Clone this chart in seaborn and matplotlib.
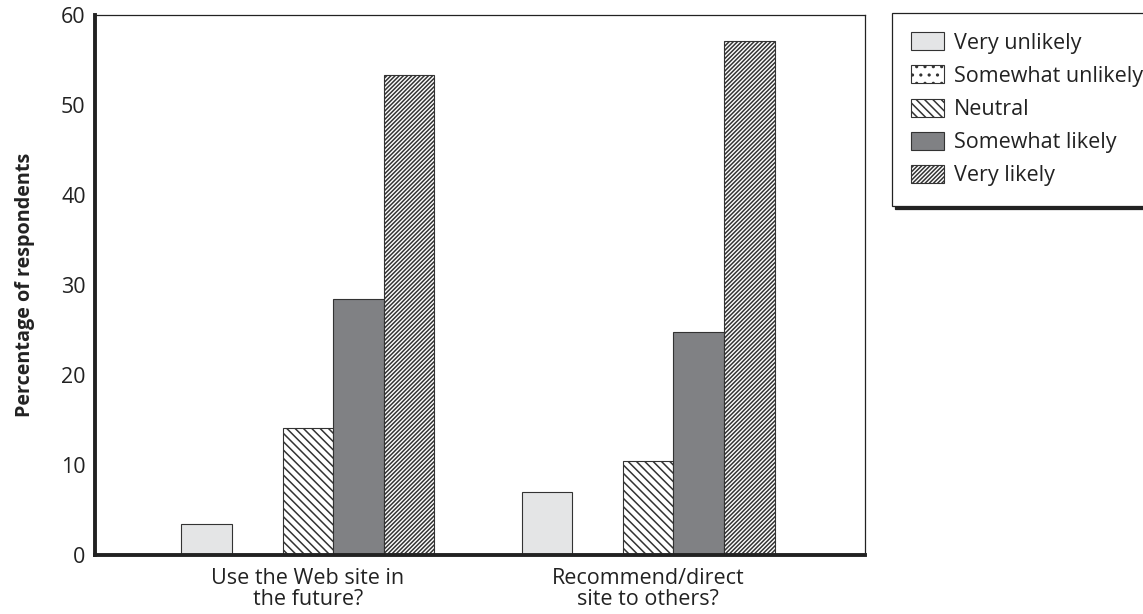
import pandas as pd
import matplotlib
matplotlib.use("Agg")
import matplotlib.pyplot as plt
from matplotlib.patches import Patch
import seaborn as sns

# ==================================================
# DATA
# ==================================================

questions = ["Use the Web site in\nthe future?", "Recommend/direct\nsite to others?"]
responses = ["Very unlikely", "Somewhat unlikely", "Neutral", "Somewhat likely", "Very likely"]

use_future = [3.4, 0.0, 14.1, 28.4, 53.3]
recommend = [7.0, 0.0, 10.5, 24.8, 57.1]

y_ticks = [0, 10, 20, 30, 40, 50, 60]

# ==================================================
# STYLE
# ==================================================

sns.set_style("white")
plt.rcParams["font.family"] = ["Open Sans", "DejaVu Sans"]
plt.rcParams["hatch.linewidth"] = 1.1
plt.rcParams["hatch.color"] = "#222222"

fills = ["#e4e5e6", "white", "white", "#808184", "white"]
hatches = [None, "..", "\\\\\\\\", None, "////////"]
edge = "#333333"
ink = "#222222"

rows = []
for q, vals in zip(questions, [use_future, recommend]):
    for r, v in zip(responses, vals):
        rows.append({"question": q, "response": r, "value": v})
df = pd.DataFrame(rows)

# ==================================================
# PLOT
# ==================================================

fig = plt.figure(figsize=(11.43, 6.14), dpi=100)
ax = fig.add_axes([0.0835, 0.096, 0.757 - 0.0835, 0.9756 - 0.096])

sns.barplot(
    data=df, x="question", y="value", hue="response",
    hue_order=responses, order=questions,
    palette=dict(zip(responses, fills)),
    width=0.743, saturation=1, gap=0,
    edgecolor=edge, linewidth=0.8,
    legend=False, ax=ax,
)

for cont, h in zip(ax.containers, hatches):
    for bar in cont:
        if h:
            bar.set_hatch(h)
        if bar.get_height() == 0:
            bar.set_visible(False)

ax.set_xlim(-0.624, 1.638)
ax.set_ylim(0, 60)
ax.set_yticks(y_ticks)
ax.tick_params(axis="y", direction="in", length=14, width=0.9,
               color=ink, labelsize=15.5, pad=7, labelcolor=ink)
ax.tick_params(axis="x", length=0, labelsize=15.5, pad=9, labelcolor=ink)
for lbl in ax.get_xticklabels():
    lbl.set_linespacing(1.05)

ax.set_xlabel("")
ax.set_ylabel("Percentage of respondents", fontsize=14.2, fontweight="bold",
              color=ink, labelpad=19)

for side in ["left", "bottom"]:
    ax.spines[side].set_linewidth(2.8)
    ax.spines[side].set_color(ink)
for side in ["top", "right"]:
    ax.spines[side].set_linewidth(0.9)
    ax.spines[side].set_color(ink)

handles = [
    Patch(facecolor=f, edgecolor=edge, hatch=h, linewidth=0.8, label=r)
    for f, h, r in zip(fills, hatches, responses)
]
leg = fig.legend(
    handles=handles, loc="upper left", bbox_to_anchor=(0.7804, 0.979),
    fontsize=15.5, frameon=True, fancybox=False,
    shadow={"color": ink, "alpha": 1},
    handlelength=1.53, handleheight=0.9, handletextpad=0.45,
    labelspacing=0.55, borderpad=0.9, borderaxespad=0,
)
leg.get_frame().set_edgecolor(ink)
leg.get_frame().set_linewidth(0.9)
for t in leg.get_texts():
    t.set_color(ink)

plt.savefig("out.png", dpi=100)
plt.close()
